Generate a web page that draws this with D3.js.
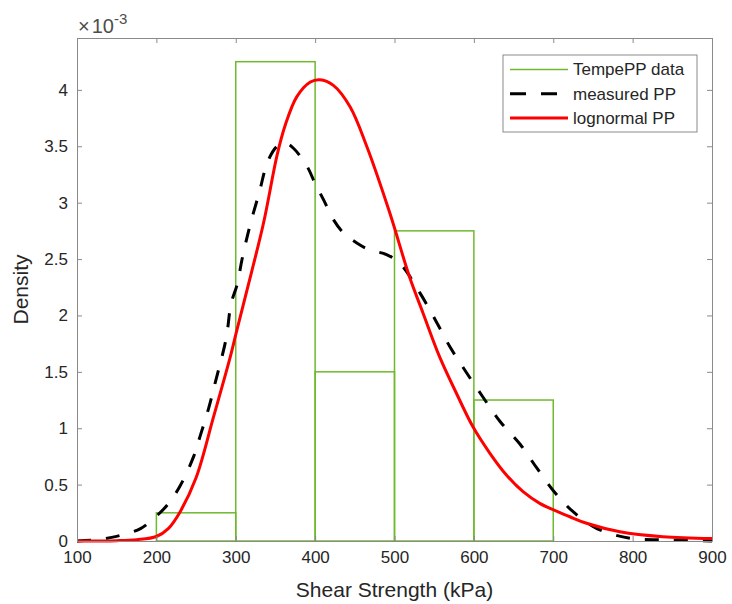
<!DOCTYPE html>
<html>
<head>
<meta charset="utf-8">
<script src="https://cdn.jsdelivr.net/npm/d3@7"></script>
<style>
  body { margin: 0; background: #fff; }
  text { font-family: "Liberation Sans", Arial, sans-serif; fill: #262626; }
  .expo { font-size: 20px; fill: #4d4d4d; }
  .expo .sup { font-size: 15px; }
</style>
</head>
<body>
<svg id="chart" width="732" height="604"></svg>
<script>
// histogram bins (kPa) and densities (x1e-3)
const binEdges = [200, 300, 400, 500, 600, 700];
const binDensity = [0.25, 4.25, 1.5, 2.75, 1.25];

// measured PP (dashed black)
const measuredX = [100, 125, 142, 160, 180, 200, 215, 230, 247, 256, 266, 274, 288, 294, 302, 308, 318, 330, 340, 352, 362, 373, 390, 400, 411, 423, 436, 453, 469, 490, 507, 532, 553, 570, 591, 612, 633, 658, 679, 702, 725, 755, 797, 838, 880, 900];
const measuredY = [0, 0.01, 0.03, 0.06, 0.11, 0.22, 0.33, 0.49, 0.75, 0.95, 1.18, 1.40, 1.80, 2.10, 2.28, 2.50, 2.80, 3.10, 3.36, 3.50, 3.53, 3.48, 3.32, 3.17, 3.02, 2.85, 2.73, 2.64, 2.58, 2.54, 2.46, 2.20, 1.94, 1.72, 1.49, 1.27, 1.06, 0.86, 0.65, 0.43, 0.26, 0.11, 0.024, 0.01, 0.003, 0];

// lognormal PP (red)
const lognormX = [100, 150, 175, 200, 215, 230, 250, 272, 293, 300, 314, 335, 352, 362, 377, 394, 406, 423, 444, 465, 494, 519, 536, 557, 578, 599, 620, 641, 662, 683, 721, 742, 784, 838, 900];
const lognormY = [0, 0.003, 0.012, 0.04, 0.11, 0.26, 0.56, 1.10, 1.63, 1.83, 2.22, 2.82, 3.42, 3.68, 3.94, 4.07, 4.09, 4.04, 3.85, 3.50, 2.91, 2.34, 2.02, 1.63, 1.31, 1.01, 0.78, 0.585, 0.437, 0.334, 0.215, 0.157, 0.082, 0.038, 0.022];

const xTicks = [100, 200, 300, 400, 500, 600, 700, 800, 900];
const yTicks = [0, 0.5, 1, 1.5, 2, 2.5, 3, 3.5, 4];
const legendLabels = ["TempePP data", "measured PP", "lognormal PP"];

const svg = d3.select('#chart');
const margin = {top: 38, right: 20, bottom: 63, left: 77};
const width = 732, height = 604;
const green = '#6fb92e', axisCol = '#8a8a8a';

const x = d3.scaleLinear().domain([100, 900]).range([margin.left, width - margin.right]);
const y = d3.scaleLinear().domain([0, 4.46]).range([height - margin.bottom, margin.top]);

// histogram outlines
const bins = binDensity.map((d, i) => ({x0: binEdges[i], x1: binEdges[i + 1], d: d}));
svg.append('g')
  .selectAll('rect').data(bins).enter()
  .append('rect')
  .attr('x', b => x(b.x0))
  .attr('y', b => y(b.d))
  .attr('width', b => x(b.x1) - x(b.x0))
  .attr('height', b => y(0) - y(b.d))
  .attr('fill', 'none')
  .attr('stroke', green)
  .attr('stroke-width', 1.5);

const line = d3.line()
  .x(d => x(d[0]))
  .y(d => y(d[1]))
  .curve(d3.curveCatmullRom.alpha(0.5));

svg.append('path')
  .datum(d3.zip(measuredX, measuredY))
  .attr('d', line)
  .attr('fill', 'none')
  .attr('stroke', '#000')
  .attr('stroke-width', 3)
  .attr('stroke-dasharray', '14,15');

svg.append('path')
  .datum(d3.zip(lognormX, lognormY))
  .attr('d', line)
  .attr('fill', 'none')
  .attr('stroke', '#ff0000')
  .attr('stroke-width', 3);

// axes box with inward ticks
const tickLen = 5;
const axisFmt = d => d3.format('')(d);
svg.append('g')
  .attr('transform', `translate(0,${y(0)})`)
  .call(d3.axisBottom(x).tickValues(xTicks).tickSize(-tickLen).tickPadding(10).tickSizeOuter(0))
  .call(g => g.selectAll('text').attr('font-size', '17px').attr('dy', '0.71em'));
svg.append('g')
  .attr('transform', `translate(0,${margin.top})`)
  .call(d3.axisTop(x).tickValues(xTicks).tickSize(-tickLen).tickFormat('').tickSizeOuter(0));
svg.append('g')
  .attr('transform', `translate(${margin.left},0)`)
  .call(d3.axisLeft(y).tickValues(yTicks).tickSize(-tickLen).tickPadding(9).tickFormat(axisFmt).tickSizeOuter(0))
  .call(g => g.selectAll('text').attr('font-size', '17px'));
svg.append('g')
  .attr('transform', `translate(${width - margin.right},0)`)
  .call(d3.axisRight(y).tickValues(yTicks).tickSize(-tickLen).tickFormat('').tickSizeOuter(0));

svg.selectAll('.domain').attr('stroke', axisCol);
svg.selectAll('.tick line').attr('stroke', axisCol);
svg.selectAll('.tick text').attr('fill', '#262626').style('font-family', '"Liberation Sans", Arial, sans-serif');

// exponent label
const ex = svg.append('text').attr('class', 'expo').attr('x', 78).attr('y', 33);
ex.append('tspan').text('\u00d7');
ex.append('tspan').attr('dx', 2).text('10');
ex.append('tspan').attr('class', 'sup').attr('dy', -9).text('-3');

// axis labels
svg.append('text')
  .attr('x', (x(100) + x(900)) / 2).attr('y', 597)
  .attr('text-anchor', 'middle').attr('font-size', '21px')
  .text('Shear Strength (kPa)');
svg.append('text')
  .attr('transform', `translate(28,${(y(0) + y(4.46)) / 2}) rotate(-90)`)
  .attr('text-anchor', 'middle').attr('font-size', '21px')
  .text('Density');

// legend
const lg = svg.append('g').attr('transform', 'translate(503,55)');
lg.append('rect').attr('width', 194).attr('height', 77)
  .attr('fill', '#fff').attr('stroke', axisCol).attr('stroke-width', 1);
const lStyles = [
  {stroke: green, w: 1.5, dash: null},
  {stroke: '#000', w: 3, dash: '16,15'},
  {stroke: '#ff0000', w: 3, dash: null}
];
legendLabels.forEach((t, i) => {
  const yy = 14.5 + i * 24.2;
  lg.append('line').attr('x1', 7).attr('x2', 65).attr('y1', yy).attr('y2', yy)
    .attr('stroke', lStyles[i].stroke).attr('stroke-width', lStyles[i].w)
    .attr('stroke-dasharray', lStyles[i].dash);
  lg.append('text').attr('x', 70).attr('y', yy).attr('dy', '0.35em')
    .attr('font-size', '17px').text(t);
});
</script>
</body>
</html>
